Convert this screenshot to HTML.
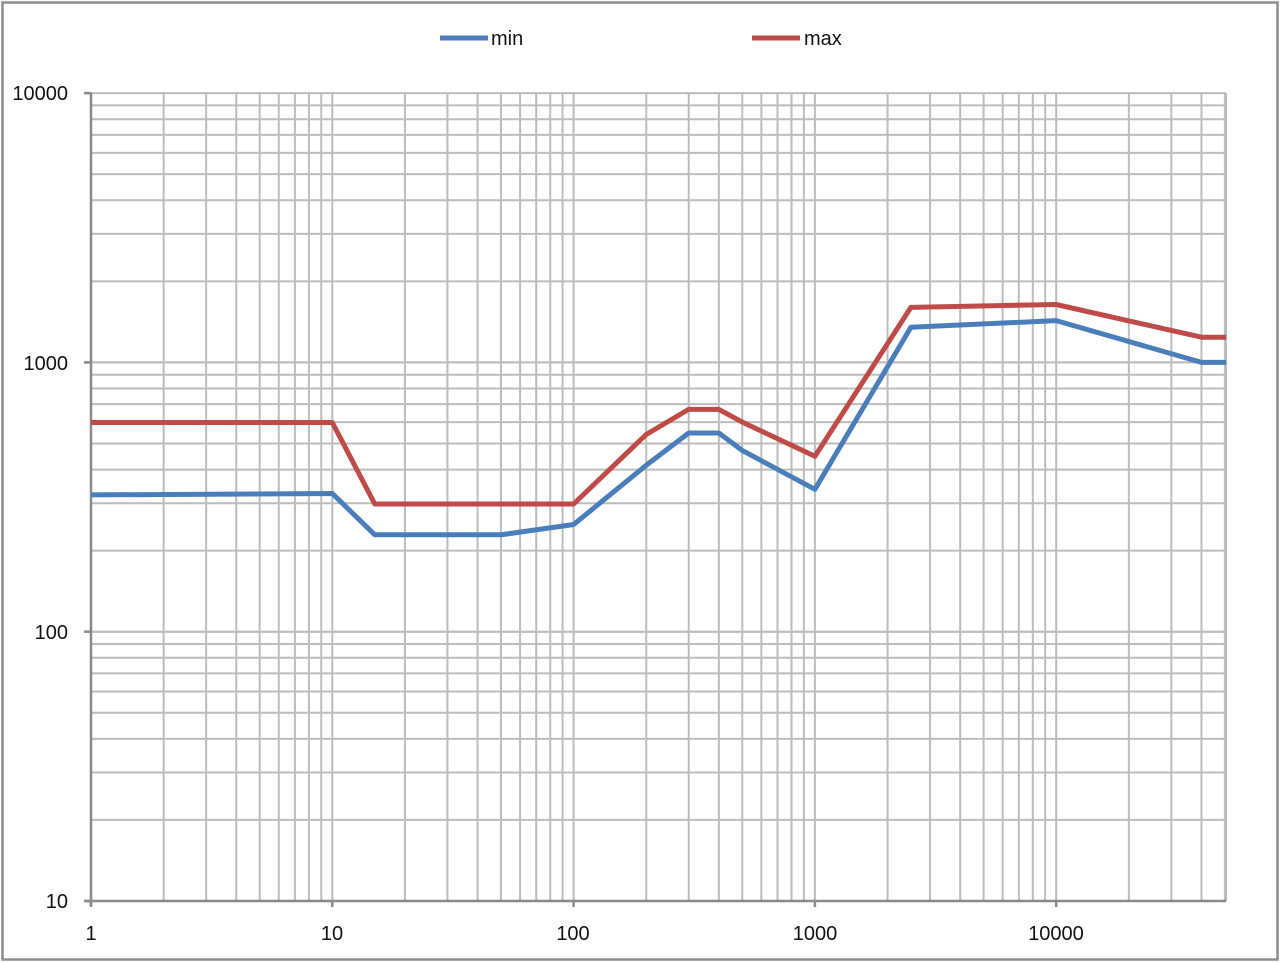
<!DOCTYPE html>
<html><head><style>body{margin:0;background:#fff}svg{display:block}text{font-family:"Liberation Sans",sans-serif;fill:#111}</style></head>
<body>
<svg id="s" width="1280" height="963" viewBox="0 0 1280 963">
<rect x="2.5" y="2.5" width="1275" height="957" fill="#fff" stroke="#8c8c8c" stroke-width="2.5"/>
<g id="grid" stroke="#bcbcbc" stroke-width="2"></g>
<g id="axes" stroke="#8a8a8a" stroke-width="2.5"></g>
<g font-size="20" text-anchor="end">
<text x="68" y="100">10000</text>
<text x="68" y="370">1000</text>
<text x="68" y="639">100</text>
<text x="68" y="908">10</text>
</g>
<g font-size="20" text-anchor="middle">
<text x="91" y="940">1</text>
<text x="332" y="940">10</text>
<text x="573" y="940">100</text>
<text x="815" y="940">1000</text>
<text x="1056" y="940">10000</text>
</g>
<line x1="440" y1="38" x2="488" y2="38" stroke="#4a7ebb" stroke-width="5"/>
<text x="491" y="45" font-size="20">min</text>
<line x1="752" y1="38" x2="800" y2="38" stroke="#be4b48" stroke-width="5"/>
<text x="804" y="45" font-size="20">max</text>
<polyline id="pmin" fill="none" stroke="#4a7ebb" stroke-width="5" stroke-linejoin="round"/>
<polyline id="pmax" fill="none" stroke="#be4b48" stroke-width="5" stroke-linejoin="round"/>
</svg>
<script>
var X0=91,DX=241.3,Y0=901,DY=269.3,XR=1226;
function px(v){return X0+Math.log10(v)*DX}
function py(v){return Y0-(Math.log10(v)-1)*DY}
var g=document.getElementById('grid'),a=document.getElementById('axes'),ns='http://www.w3.org/2000/svg';
function L(p,x1,y1,x2,y2){var l=document.createElementNS(ns,'line');l.setAttribute('x1',x1);l.setAttribute('y1',y1);l.setAttribute('x2',x2);l.setAttribute('y2',y2);p.appendChild(l)}
for(var d=1;d<=10000;d*=10)for(var k=1;k<10;k++){var x=px(d*k);if(x>XR+1)break;if(x>X0+1)L(g,x,93,x,901)}
L(g,XR,93,XR,901);
for(var d=10;d<=1000;d*=10)for(var k=1;k<=10;k++){var y=py(d*k);if(y<Y0-1)L(g,X0,y,XR,y)}
L(a,X0,93,X0,906);L(a,84,901,XR,901);
[10,100,1000,10000].forEach(function(v){L(a,84,py(v),X0,py(v))});
[1,10,100,1000,10000].forEach(function(v){L(a,px(v),901,px(v),907)});
function P(id,d){document.getElementById(id).setAttribute('points',d.map(function(p){return px(p[0]).toFixed(1)+','+py(p[1]).toFixed(1)}).join(' '))}
P('pmin',[[1,322],[10,326],[15,229],[50,229],[100,250],[200,415],[300,547],[400,547],[500,471],[1000,338],[2500,1350],[10000,1430],[40000,1000],[50600,1000]]);
P('pmax',[[1,598],[10,598],[15,298],[100,298],[200,540],[300,669],[400,669],[500,600],[1000,448],[2500,1600],[10000,1640],[40000,1240],[50600,1240]]);
</script>
</body></html>
